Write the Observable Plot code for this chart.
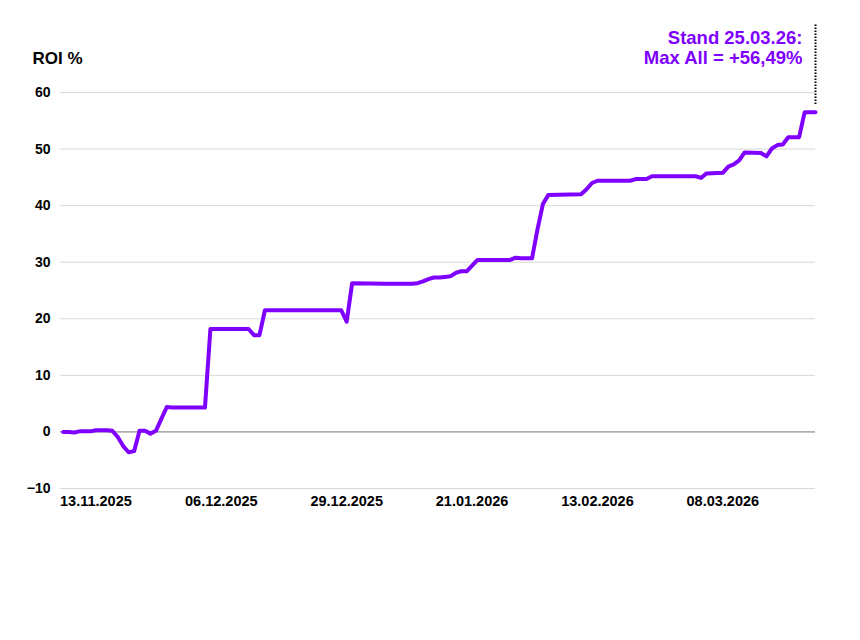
<!DOCTYPE html>
<html>
<head>
<meta charset="utf-8">
<script src="https://cdn.jsdelivr.net/npm/d3@7"></script>
<script src="https://cdn.jsdelivr.net/npm/@observablehq/plot@0.6"></script>
<style>
  html, body { margin: 0; padding: 0; background: #fff; }
  #chart svg text { font-family: "Liberation Sans", Arial, Helvetica, sans-serif; }
</style>
</head>
<body>
<div id="chart"></div>
<script>
const dates = [
  "2025-11-07","2025-11-08","2025-11-09","2025-11-10","2025-11-11","2025-11-12","2025-11-13","2025-11-14","2025-11-15","2025-11-16",
  "2025-11-17","2025-11-18","2025-11-19","2025-11-20","2025-11-21","2025-11-22","2025-11-23","2025-11-24","2025-11-25","2025-11-26",
  "2025-11-27","2025-12-03","2025-12-04","2025-12-11","2025-12-12","2025-12-13","2025-12-14","2025-12-28","2025-12-29","2025-12-30",
  "2026-01-05","2026-01-10","2026-01-11","2026-01-12","2026-01-13","2026-01-14","2026-01-15","2026-01-16","2026-01-17","2026-01-18",
  "2026-01-19","2026-01-20","2026-01-21","2026-01-22","2026-01-28","2026-01-29","2026-01-30","2026-02-01","2026-02-02","2026-02-03",
  "2026-02-04","2026-02-10","2026-02-11","2026-02-12","2026-02-13","2026-02-19","2026-02-20","2026-02-22","2026-02-23","2026-03-03",
  "2026-03-04","2026-03-05","2026-03-08","2026-03-09","2026-03-10","2026-03-11","2026-03-12","2026-03-15","2026-03-16","2026-03-17",
  "2026-03-18","2026-03-19","2026-03-20","2026-03-22","2026-03-23","2026-03-25"
];
const roi = [
  0.0, 0.0, -0.1, 0.1, 0.1, 0.1, 0.3, 0.3, 0.3, 0.2,
  -0.9, -2.5, -3.6, -3.4, 0.2, 0.2, -0.3, 0.2, 2.3, 4.4,
  4.3, 4.3, 18.2, 18.2, 17.1, 17.1, 21.5, 21.5, 19.5, 26.3,
  26.2, 26.2, 26.3, 26.6, 27.0, 27.3, 27.3, 27.4, 27.5, 28.1,
  28.4, 28.4, 29.4, 30.4, 30.4, 30.8, 30.7, 30.7, 35.8, 40.3,
  41.9, 42.0, 42.9, 44.0, 44.4, 44.4, 44.7, 44.7, 45.2, 45.2,
  44.9, 45.7, 45.8, 46.9, 47.3, 48.0, 49.4, 49.3, 48.7, 50.1,
  50.7, 50.8, 52.1, 52.1, 56.49, 56.49
];
const yTicks = [-10, 0, 10, 20, 30, 40, 50, 60];
const xTickLabels = ["13.11.2025","06.12.2025","29.12.2025","21.01.2026","13.02.2026","08.03.2026"];
const yLabel = "ROI %";
const annotationDate = "2026-03-25";
const annotationText = "Stand 25.03.26:\nMax All = +56,49%";
const domainStart = "2025-11-06T12:00:00Z";

const parseLabel = d3.utcParse("%d.%m.%Y");
const data = dates.map((d, i) => ({date: new Date(d + "T00:00:00Z"), roi: roi[i]}));
const xTicks = xTickLabels.map(parseLabel);
const endDate = new Date(annotationDate + "T00:00:00Z");
const annot = [{date: endDate, label: annotationText, y1: 57.9, y2: 72.2}];
const purple = "#7f00ff";

const chart = Plot.plot({
  width: 860,
  height: 640,
  marginLeft: 60,
  marginRight: 45,
  marginTop: 92,
  marginBottom: 152,
  style: {fontFamily: "'Liberation Sans', Arial, Helvetica, sans-serif", background: "#fff", overflow: "visible"},
  x: {type: "utc", domain: [new Date(domainStart), endDate]},
  y: {domain: [-10, 60]},
  marks: [
    Plot.ruleY(yTicks, {stroke: "#d8d8d8", strokeWidth: 1}),
    Plot.ruleY([0], {stroke: "#9a9a9a", strokeWidth: 1.2}),
    Plot.axisY({ticks: yTicks, tickSize: 0, tickPadding: 10, fontSize: 14, fontWeight: "bold", fill: "#000", label: null}),
    Plot.axisX({ticks: xTicks, tickSize: 0, tickPadding: 7, fontSize: 14.5, fontWeight: "bold", fill: "#000", label: null, tickFormat: d3.utcFormat("%d.%m.%Y")}),
    Plot.line(data, {x: "date", y: "roi", stroke: purple, strokeWidth: 4, strokeLinejoin: "round", strokeLinecap: "round"}),
    Plot.ruleX(annot, {x: "date", y1: "y1", y2: "y2", stroke: "#000", strokeWidth: 2, strokeDasharray: "1.5 1.5"}),
    Plot.text(annot, {x: "date", text: "label", frameAnchor: "top", textAnchor: "end", lineAnchor: "middle", dx: -13, dy: -45, fontSize: 18.5, fontWeight: "bold", fill: purple, lineHeight: 1.1}),
    Plot.text([yLabel], {text: d => d, frameAnchor: "top-left", textAnchor: "start", lineAnchor: "bottom", dx: -28, dy: -29, fontSize: 17, fontWeight: "bold", fill: "#000"})
  ]
});
document.getElementById("chart").append(chart);
</script>
</body>
</html>
